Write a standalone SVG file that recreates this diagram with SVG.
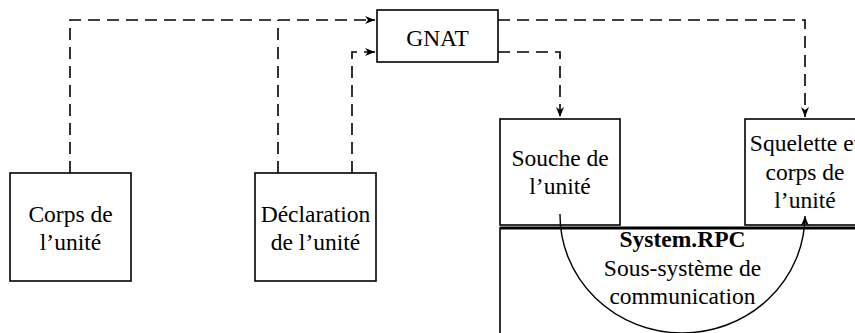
<svg xmlns="http://www.w3.org/2000/svg" width="855" height="333" viewBox="0 0 855 333">
<defs>
<marker id="ah" viewBox="0 0 10 8" refX="10" refY="4" markerWidth="10" markerHeight="8" markerUnits="userSpaceOnUse" orient="auto">
<path d="M0,0 L10,4 L0,8 L3,4 Z" fill="#000"/>
</marker>
</defs>
<style>
.box{fill:#fff;stroke:#000;stroke-width:1.6}
.t{font-family:"Liberation Serif","Times New Roman",serif;font-size:23.5px;text-anchor:middle;fill:#000}
.b{font-weight:bold}
.d{fill:none;stroke:#000;stroke-width:1.6;stroke-dasharray:12 7}
.s{fill:none;stroke:#000;stroke-width:1.4}
</style>
<rect width="855" height="333" fill="#fff"/>
<g id="connectors">
<path class="d" d="M70,173 V20 H375" marker-end="url(#ah)"/>
<path class="d" d="M278,173 V20"/>
<path class="d" d="M352,173 V52 H375" marker-end="url(#ah)"/>
<path class="d" d="M498,20 H805 V117" marker-end="url(#ah)"/>
<path class="d" d="M498,52 H560 V117" marker-end="url(#ah)"/>
</g>
<g id="gnat">
<rect class="box" x="377" y="10" width="121" height="52"/>
<text class="t" x="437.5" y="45.5">GNAT</text>
</g>
<g id="corps">
<rect class="box" x="10" y="173" width="121" height="108"/>
<text class="t" x="70.5" y="221.5">Corps de</text>
<text class="t" x="70.5" y="250">l’unité</text>
</g>
<g id="declaration">
<rect class="box" x="255" y="173" width="121" height="108"/>
<text class="t" x="315.5" y="221.5">Déclaration</text>
<text class="t" x="315.5" y="250">de l’unité</text>
</g>
<g id="systemrpc">
<path d="M500,340 V228 H860" fill="none" stroke="#000" stroke-width="1.6"/>
<line x1="500" y1="228" x2="860" y2="228" stroke="#000" stroke-width="2.8"/>
<text class="t b" x="682.5" y="247">System.RPC</text>
<text class="t" x="682.5" y="275.5">Sous-système de</text>
<text class="t" x="682.5" y="304">communication</text>
</g>
<g id="souche">
<rect class="box" x="500" y="119" width="120" height="106"/>
<text class="t" x="560" y="166">Souche de</text>
<text class="t" x="560" y="194">l’unité</text>
</g>
<g id="squelette">
<rect class="box" x="745" y="119" width="120" height="106"/>
<text class="t" x="805" y="151">Squelette et</text>
<text class="t" x="805" y="180">corps de</text>
<text class="t" x="805" y="208">l’unité</text>
</g>
<g id="arc">
<path class="s" d="M560,214 A122.5,118 0 0 0 805,216" marker-end="url(#ah)"/>
</g>
</svg>
